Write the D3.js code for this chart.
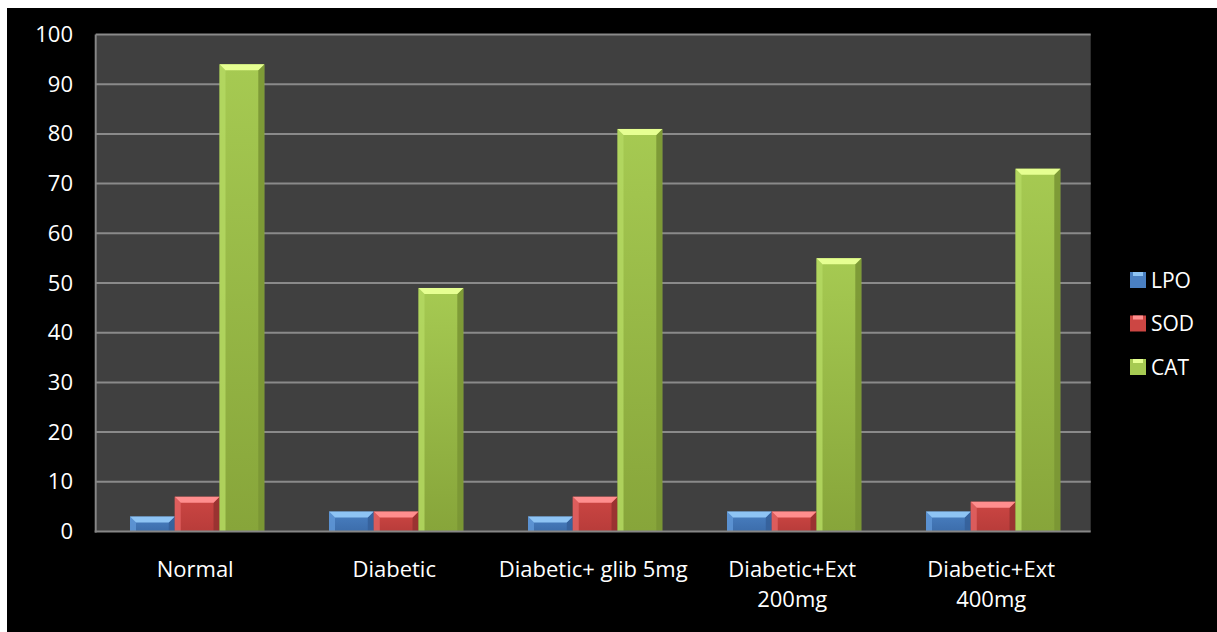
<!DOCTYPE html>
<html>
<head>
<meta charset="utf-8">
<script src="https://cdn.jsdelivr.net/npm/d3@7"></script>
<style>
  html, body { margin: 0; padding: 0; background: #ffffff; }
  svg { display: block; }
  text { font-family: "Open Sans", Lato, sans-serif; fill: #ffffff; }
</style>
</head>
<body>
<svg id="chart" width="1217" height="632"></svg>
<script>
// Oxidative-stress markers by treatment group
const categories = [["Normal"], ["Diabetic"], ["Diabetic+ glib 5mg"], ["Diabetic+Ext", "200mg"], ["Diabetic+Ext", "400mg"]];
const seriesNames = ["LPO", "SOD", "CAT"];
const lpo = [3, 4, 3, 4, 4];
const sod = [7, 4, 7, 4, 6];
const cat = [94, 49, 81, 55, 73];
const yTicks = [0, 10, 20, 30, 40, 50, 60, 70, 80, 90, 100];

const seriesValues = [lpo, sod, cat];

// bevel shades for each series: top highlight, left, face top, face bottom, right
const shades = [
  { top: "#8ec4f4", left: "#5f97d6", faceA: "#4a80c2", faceB: "#3c6dab", right: "#35619a" },
  { top: "#ff8e8e", left: "#e06262", faceA: "#cc4643", faceB: "#b83c3a", right: "#963230" },
  { top: "#e6ff92", left: "#b4d862", faceA: "#a6ca52", faceB: "#87a53a", right: "#7a9634" }
];

const svg = d3.select("#chart");
svg.append("rect").attr("x", 7).attr("y", 8).attr("width", 1210).attr("height", 624).attr("fill", "#000");

const plot = { left: 95.7, right: 1090.7, top: 34.5, bottom: 531.5 };

const x = d3.scaleBand().domain(d3.range(categories.length)).range([plot.left, plot.right]).paddingInner(0).paddingOuter(0);
const x1 = d3.scaleBand().domain(d3.range(seriesNames.length)).range([34.3, 168.6]).paddingInner(0).paddingOuter(0);
const y = d3.scaleLinear().domain([0, 100]).range([plot.bottom, plot.top]);

// plot area
svg.append("rect").attr("x", plot.left).attr("y", plot.top)
  .attr("width", plot.right - plot.left).attr("height", plot.bottom - plot.top).attr("fill", "#404040");

// gridlines
svg.append("g").selectAll("line").data(yTicks.filter(d => d > 0)).join("line")
  .attr("x1", plot.left).attr("x2", plot.right)
  .attr("y1", d => y(d)).attr("y2", d => y(d))
  .attr("stroke", "#8a8a8a").attr("stroke-width", 2);

const defs = svg.append("defs");
shades.forEach((s, i) => {
  const g = defs.append("linearGradient").attr("id", "face" + i)
    .attr("x1", 0).attr("y1", 0).attr("x2", 0).attr("y2", 1);
  g.append("stop").attr("offset", "0%").attr("stop-color", s.faceA);
  g.append("stop").attr("offset", "100%").attr("stop-color", s.faceB);
});

// bars with a bevelled edge
const bev = 6;
const groups = svg.append("g").selectAll("g").data(categories).join("g")
  .attr("transform", (d, i) => `translate(${x(i)},0)`);

groups.each(function(c, ci) {
  const g = d3.select(this);
  seriesValues.forEach((vals, si) => {
    const s = shades[si];
    const x0 = x1(si), w = x1.bandwidth(), xr = x0 + w;
    const y0 = y(vals[ci]), yb = y(0);
    const b = Math.min(bev, (yb - y0) / 2, w / 2);
    g.append("rect").attr("x", x0).attr("y", y0).attr("width", w).attr("height", yb - y0)
      .attr("fill", `url(#face${si})`);
    g.append("polygon").attr("points", [[x0, y0], [x0 + b, y0 + b], [x0 + b, yb], [x0, yb]].join(" "))
      .attr("fill", s.left).attr("opacity", 0.85);
    g.append("polygon").attr("points", [[xr, y0], [xr - b, y0 + b], [xr - b, yb], [xr, yb]].join(" "))
      .attr("fill", s.right).attr("opacity", 0.9);
    g.append("polygon").attr("points", [[x0, y0], [xr, y0], [xr - b, y0 + b], [x0 + b, y0 + b]].join(" "))
      .attr("fill", s.top);
  });
});

// axis lines
svg.append("line").attr("x1", plot.left).attr("x2", plot.left).attr("y1", plot.top).attr("y2", plot.bottom + 1)
  .attr("stroke", "#868686").attr("stroke-width", 2);
svg.append("line").attr("x1", plot.left - 1).attr("x2", plot.right).attr("y1", plot.bottom).attr("y2", plot.bottom)
  .attr("stroke", "#868686").attr("stroke-width", 2);

// y tick labels
const yAxis = d3.axisLeft(y).tickValues(yTicks).tickSize(0).tickPadding(0);
const ya = svg.append("g").attr("transform", `translate(73,0)`).call(yAxis);
ya.select(".domain").remove();
ya.selectAll("text").attr("fill", "#fff").style("font-size", "22px").style("font-family", "'Open Sans', Lato, sans-serif");

// category labels
const xl = svg.append("g").selectAll("text").data(categories).join("text")
  .attr("text-anchor", "middle")
  .attr("x", (d, i) => x(i) + x.bandwidth() / 2)
  .attr("y", 577)
  .style("font-size", "22px");
xl.selectAll("tspan").data(d => d).join("tspan")
  .attr("x", function() { return d3.select(this.parentNode).attr("x"); })
  .attr("dy", (d, i) => i === 0 ? 0 : 30)
  .text(d => d);

// legend
const leg = svg.append("g").selectAll("g").data(seriesNames).join("g")
  .attr("transform", (d, i) => `translate(1130,${272 + i * 43.5})`);
leg.append("rect").attr("width", 16).attr("height", 16).attr("fill", (d, i) => shades[i].faceA);
leg.append("rect").attr("x", 3).attr("y", 0).attr("width", 10).attr("height", 4).attr("fill", (d, i) => shades[i].top);
leg.append("text").attr("x", 21).attr("y", 15.5).style("font-size", "21px").text(d => d);
</script>
</body>
</html>
